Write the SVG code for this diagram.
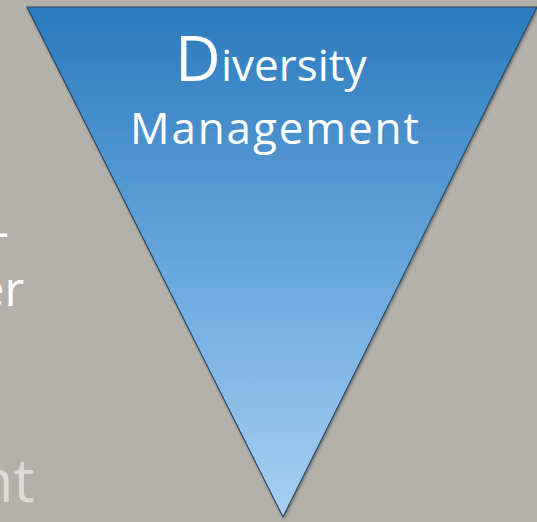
<svg xmlns="http://www.w3.org/2000/svg" width="537" height="522" viewBox="0 0 537 522">
  <defs>
    <linearGradient id="tri" x1="0" y1="7" x2="0" y2="517" gradientUnits="userSpaceOnUse">
      <stop offset="0" stop-color="#2a7abd"/>
      <stop offset="0.5" stop-color="#67a6dc"/>
      <stop offset="1" stop-color="#a8d0f3"/>
    </linearGradient>
    <filter id="sh" x="-10%" y="-10%" width="120%" height="120%">
      <feDropShadow dx="1" dy="1.5" stdDeviation="1.5" flood-color="#000" flood-opacity="0.35"/>
    </filter>
    <style>
      .t { font-family: "Open Sans", Lato, "Liberation Sans", sans-serif; fill: #ffffff; }
      .faint { fill: #dddbd7; }
    </style>
  </defs>
  <rect width="537" height="522" fill="#b4b1aa"/>
  <g id="side-text">
    <text class="t" x="9" y="248" font-size="48" text-anchor="end">-</text>
    <text class="t" x="24" y="306" font-size="48" text-anchor="end">er</text>
    <text class="t faint" x="35" y="502" font-size="60" text-anchor="end">nt</text>
  </g>
  <g id="triangle">
    <polygon points="27,7 537,7 283,517" fill="url(#tri)" stroke="#2d4b66" stroke-width="1.2" filter="url(#sh)"/>
    <text class="t" y="81"><tspan x="175" font-size="63">D</tspan><tspan x="221" font-size="44">iversity</tspan></text>
    <text class="t" x="130" y="144" font-size="44" textLength="289" lengthAdjust="spacing">Management</text>
  </g>
</svg>
